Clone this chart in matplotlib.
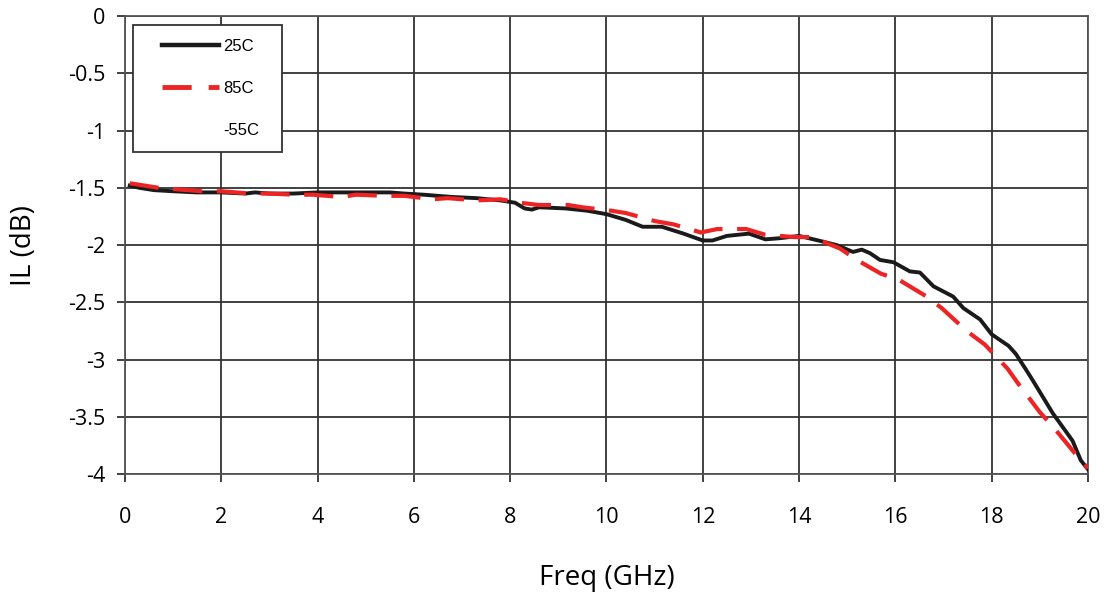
import numpy as np
import matplotlib
matplotlib.use('Agg')
import matplotlib.pyplot as plt
from matplotlib.lines import Line2D
from matplotlib.patches import Rectangle

plt.rcParams['axes.unicode_minus'] = False

# 25C trace (GHz, dB)
freq_25 = [0.1, 0.3, 0.6, 1.0, 1.5, 2.0, 2.5, 2.7, 3.0, 3.5, 4.0, 4.5, 5.0, 5.5,
           5.8, 6.2, 6.8, 7.3, 7.8, 8.1, 8.3, 8.45, 8.6, 9.15, 9.6, 10.0, 10.4,
           10.75, 11.15, 11.6, 12.0, 12.2, 12.5, 12.96, 13.3, 13.6, 14.0, 14.4,
           14.78, 15.12, 15.3, 15.47, 15.68, 15.96, 16.3, 16.51, 16.79, 17.2,
           17.41, 17.76, 18.0, 18.35, 18.5, 18.7, 18.85, 19.27, 19.68, 19.85, 20.0]
il_25 = [-1.48, -1.50, -1.52, -1.53, -1.54, -1.54, -1.55, -1.54, -1.55, -1.55,
         -1.54, -1.54, -1.54, -1.54, -1.55, -1.56, -1.58, -1.59, -1.61, -1.63,
         -1.68, -1.69, -1.67, -1.68, -1.70, -1.73, -1.78, -1.84, -1.84, -1.90,
         -1.96, -1.96, -1.92, -1.90, -1.95, -1.94, -1.92, -1.96, -2.00, -2.06,
         -2.04, -2.07, -2.13, -2.15, -2.23, -2.24, -2.36, -2.45, -2.55, -2.65,
         -2.78, -2.88, -2.95, -3.08, -3.18, -3.47, -3.71, -3.88, -3.96]

# 85C trace
freq_85 = [0.1, 0.4, 0.7, 1.0, 1.6, 2.0, 2.6, 3.0, 3.5, 3.9, 4.5, 4.8, 5.4, 5.8,
           6.4, 6.7, 7.3, 7.8, 8.2, 8.6, 9.2, 9.5, 10.1, 10.4, 11.0, 11.4, 11.96,
           12.3, 12.9, 13.3, 13.9, 14.26, 14.85, 15.2, 15.7, 16.06, 16.65, 16.96,
           17.48, 17.86, 18.33, 18.55, 19.0, 19.28, 19.73, 20.0]
il_85 = [-1.46, -1.48, -1.50, -1.51, -1.53, -1.53, -1.55, -1.55, -1.56, -1.56,
         -1.58, -1.56, -1.57, -1.57, -1.60, -1.59, -1.61, -1.60, -1.63, -1.65,
         -1.65, -1.67, -1.70, -1.72, -1.79, -1.82, -1.89, -1.86, -1.86, -1.91,
         -1.93, -1.93, -2.03, -2.13, -2.25, -2.30, -2.45, -2.55, -2.75, -2.87,
         -3.08, -3.21, -3.46, -3.59, -3.82, -3.95]

x_ticks = [0, 2, 4, 6, 8, 10, 12, 14, 16, 18, 20]
y_ticks = [0, -0.5, -1, -1.5, -2, -2.5, -3, -3.5, -4]
y_tick_labels = ['0', '-0.5', '-1', '-1.5', '-2', '-2.5', '-3', '-3.5', '-4']

fig = plt.figure(figsize=(11.04, 5.97), dpi=100)
ax = fig.add_axes([0.1132, 0.206, 0.8723, 0.767])

ax.plot(freq_25, il_25, color='#1a1a1a', linewidth=2.8, label='25C', zorder=3)
ax.plot(freq_85, il_85, color='#ee2424', linewidth=3.0, linestyle=(0, (7, 3.5)),
        label='85C', zorder=4)

ax.set_xlim(0, 20)
ax.set_ylim(-4, 0)
ax.set_xticks(x_ticks)
ax.set_xticklabels([str(t) for t in x_ticks], fontsize=15.5, family='Open Sans')
ax.set_yticks(y_ticks)
ax.set_yticklabels(y_tick_labels, fontsize=15.5, family='Open Sans')
ax.tick_params(axis='both', direction='out', length=6, width=1.3, color='#333333')
ax.tick_params(axis='x', pad=18)
ax.tick_params(axis='y', pad=8)
ax.grid(True, color='#333333', linewidth=1.3)
ax.set_axisbelow(True)
for s in ax.spines.values():
    s.set_color('#555555')
    s.set_linewidth(1.3)

ax.set_xlabel('Freq (GHz)', fontsize=20, family='Open Sans', labelpad=26)
ax.set_ylabel('IL (dB)', fontsize=20, family='Open Sans', labelpad=22)

# legend box drawn separately so it can be wider than the entries
ax.add_patch(Rectangle((0.0083, 0.703), 0.155, 0.277, transform=ax.transAxes,
                       facecolor='white', edgecolor='#333333', linewidth=1.3,
                       zorder=5))
handles = [Line2D([], [], color='#1a1a1a', linewidth=3.2),
           Line2D([], [], color='#ee2424', linewidth=3.5, linestyle=(0, (6, 3.5))),
           Line2D([], [], color='white', linewidth=3.0)]
leg = ax.legend(handles, ['25C', '85C', '-55C'], loc='upper left',
                bbox_to_anchor=(0.0384, 0.951), borderaxespad=0,
                prop={'family': 'Liberation Sans', 'size': 12},
                handlelength=3.4, handletextpad=0.3, labelspacing=1.62,
                borderpad=0, frameon=False)
leg.set_zorder(6)

plt.savefig('out.png', dpi=100)
plt.close()
